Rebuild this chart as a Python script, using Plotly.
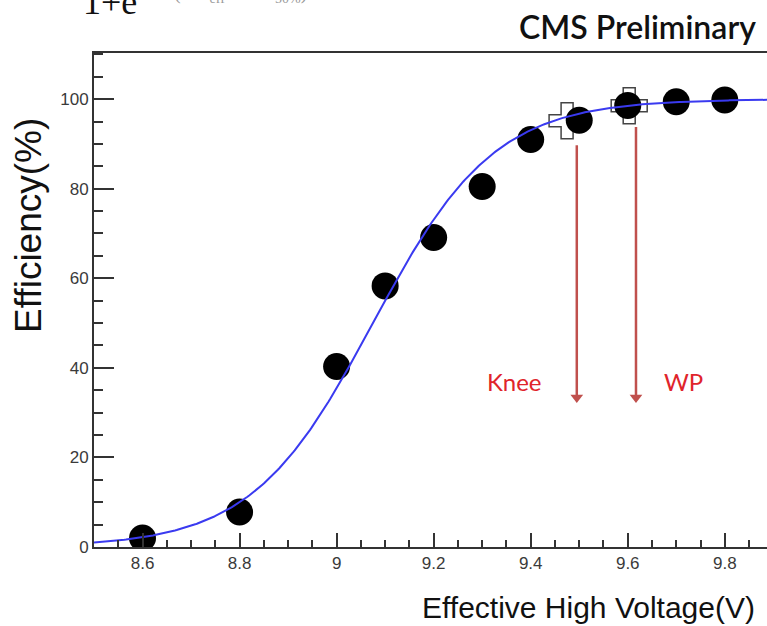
import numpy as np
import plotly.graph_objects as go

# Measured efficiency vs effective high voltage
hv = [8.6, 8.8, 9.0, 9.1, 9.2, 9.3, 9.4, 9.5, 9.6, 9.7, 9.8]
eff = [2.0, 7.8, 40.3, 58.3, 69.1, 80.5, 91.0, 95.3, 98.6, 99.4, 99.8]

# Sigmoid fit parameters: eff = emax / (1 + exp(-lam * (HV - hv50)))
emax = 100.0
lam = 8.0
hv50 = 9.075

# Knee and working point markers
ref_hv = [9.475, 9.603]
ref_eff = [95.2, 98.5]

# Arrow positions and labels
arrow_hv = [9.495, 9.617]
arrow_top = [89.7, 93.8]
arrow_head = 33.4
arrow_text = ["Knee", "WP"]
arrow_text_hv = [9.366, 9.715]
arrow_text_eff = 36.2

x_ticks = [8.6, 8.8, 9.0, 9.2, 9.4, 9.6, 9.8]
x_tick_text = ["8.6", "8.8", "9", "9.2", "9.4", "9.6", "9.8"]
y_ticks = [0, 20, 40, 60, 80, 100]

x_range = [8.5, 9.887]
y_range = [0, 110.3]

arrow_color = "#c0504d"

fit_x = np.linspace(x_range[0], x_range[1], 400)
fit_y = emax / (1.0 + np.exp(-lam * (fit_x - hv50)))

fig = go.Figure()

# Arrows marking the knee and the working point
for xa, top in zip(arrow_hv, arrow_top):
    fig.add_trace(go.Scatter(
        x=[xa, xa], y=[top, arrow_head], mode="lines",
        line=dict(color=arrow_color, width=2.5),
        showlegend=False, hoverinfo="skip"))
fig.add_trace(go.Scatter(
    x=arrow_hv, y=[arrow_head] * len(arrow_hv), mode="markers",
    marker=dict(symbol="triangle-down", size=11, color=arrow_color,
                line=dict(width=0)),
    showlegend=False, hoverinfo="skip"))

fig.add_trace(go.Scatter(
    x=ref_hv, y=ref_eff, mode="markers",
    marker=dict(symbol="cross-open", size=30, color="#444444",
                line=dict(color="#444444", width=1.5)),
    showlegend=False, hoverinfo="skip"))

fig.add_trace(go.Scatter(
    x=hv, y=eff, mode="markers",
    marker=dict(symbol="circle", size=27, color="black",
                line=dict(width=0)),
    showlegend=False))

fig.add_trace(go.Scatter(
    x=fit_x, y=fit_y, mode="lines",
    line=dict(color="#3a3af0", width=2),
    showlegend=False, hoverinfo="skip"))

fig.add_trace(go.Scatter(
    x=arrow_text_hv, y=[arrow_text_eff] * len(arrow_text), mode="text",
    text=arrow_text, textposition="middle center",
    textfont=dict(family="Lato, sans-serif", size=24, color="#e0242b"),
    showlegend=False, hoverinfo="skip"))

axis_font = dict(family="Liberation Sans, Arial, sans-serif", size=17, color="#3a3a3a")

fig.update_xaxes(
    range=x_range, tickvals=x_ticks, ticktext=x_tick_text,
    ticks="inside", ticklen=14, tickwidth=1.5, tickcolor="#333333",
    minor=dict(dtick=0.05, ticks="inside", ticklen=7, tickwidth=1.5, tickcolor="#333333"),
    showline=True, linecolor="#333333", linewidth=2, mirror=True,
    showgrid=False, zeroline=False, tickfont=axis_font)

fig.update_yaxes(
    range=y_range, tickvals=y_ticks,
    ticks="inside", ticklen=20, tickwidth=1.5, tickcolor="#333333",
    minor=dict(dtick=5, ticks="inside", ticklen=9, tickwidth=1.5, tickcolor="#333333"),
    showline=True, linecolor="#333333", linewidth=2, mirror=False,
    showgrid=False, zeroline=False, tickfont=axis_font)

annotations = [
    dict(text="Efficiency(%)", textangle=-90, xref="paper", yref="paper",
         x=-0.0966, y=0.652, xanchor="center", yanchor="middle", showarrow=False,
         font=dict(family="Liberation Sans, Arial, sans-serif", size=37, color="#111111")),
    dict(text="Effective High Voltage(V)", xref="paper", yref="paper",
         x=0.985, y=-0.1215, xanchor="right", yanchor="middle", showarrow=False,
         font=dict(family="Liberation Sans, Arial, sans-serif", size=30, color="#111111")),
    dict(text="CMS Preliminary", xref="paper", yref="paper",
         x=0.986, y=1.0546, xanchor="right", yanchor="middle", showarrow=False,
         font=dict(family="Lato, sans-serif", size=32, color="#111111", weight=600)),
    dict(text="1+e", xref="paper", yref="paper",
         x=-0.02, y=1.104, xanchor="left", yanchor="middle", showarrow=False,
         font=dict(family="Liberation Serif, serif", size=36, color="#111111")),
    dict(text="−λ(HV<sub>eff</sub> − HV<sub>50%</sub>)", xref="paper", yref="paper",
         x=0.085, y=1.121, xanchor="left", yanchor="middle", showarrow=False,
         font=dict(family="Liberation Serif, serif", size=20, color="#999999")),
]

fig.update_layout(
    width=767, height=626,
    margin=dict(l=94, r=0, t=53, b=79),
    paper_bgcolor="white", plot_bgcolor="white",
    annotations=annotations,
    showlegend=False)

fig.write_html("out.html")
